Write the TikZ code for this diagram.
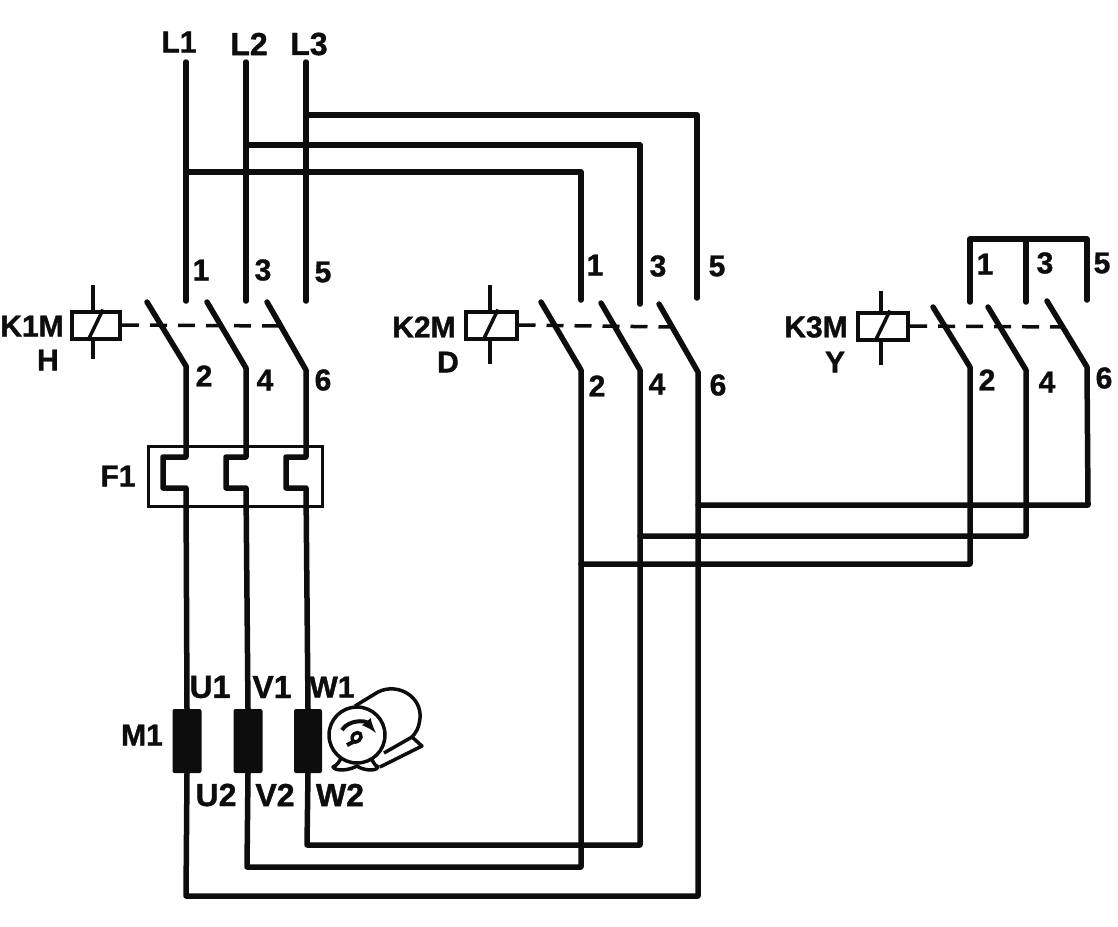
\documentclass[tikz,border=0pt]{standalone}
\usepackage{fontspec}
\setmainfont{Liberation Sans}[BoldFeatures={FakeBold=1.2}]
\begin{document}
\begin{tikzpicture}[x=1pt,y=-1pt]

      \tikzstyle{Wire} = [line width=5.5pt, line cap=round, line join=round, black!95]
      \tikzstyle{ThinWire} = [line width=3.5pt, line cap=butt, line join=round, black!95]
      \tikzstyle{Link} = [line width=3.5pt, dash pattern=on 17pt off 11pt, black!95]
      \tikzstyle{Label} = [font=\bfseries\fontsize{30}{32}\selectfont, inner sep=0pt, black!95]
      \tikzstyle{PortLabel} = [font=\bfseries\fontsize{32}{34}\selectfont, inner sep=0pt, black!95]
      \tikzstyle{CoilBlock} = [rectangle, draw=black!95, line width=4pt, fill=white, minimum width=48pt, minimum height=27pt, inner sep=0pt]
      \tikzstyle{WindingBlock} = [rectangle, rounded corners=2pt, fill=black!95, minimum width=29pt, minimum height=64pt, inner sep=0pt]

      \useasboundingbox (0,0) rectangle (1118,926);

      % supply and bus coordinates
      \coordinate (L1top) at (186,62);
      \coordinate (L2top) at (246,62);
      \coordinate (L3top) at (306,62);
      \coordinate (L1end) at (186,301);
      \coordinate (L2end) at (246,301);
      \coordinate (L3end) at (306,301);
      \coordinate (L1tap) at (186,172);
      \coordinate (L2tap) at (246,145);
      \coordinate (L3tap) at (306,115);

      \coordinate (D1corner) at (581,172);
      \coordinate (D3corner) at (640,145);
      \coordinate (D5corner) at (697,115);
      \coordinate (D1end) at (581,300);
      \coordinate (D3end) at (640,304);
      \coordinate (D5end) at (697,298);

      \coordinate (Y1corner) at (970,239);
      \coordinate (Y3top) at (1026,239);
      \coordinate (Y5corner) at (1087,239);
      \coordinate (Y1end) at (970,302);
      \coordinate (Y3end) at (1026,302);
      \coordinate (Y5end) at (1087,300);

      % blades: free end and knee
      \coordinate (H2free) at (147,302);
      \coordinate (H2knee) at (186,366);
      \coordinate (H4free) at (207,302);
      \coordinate (H4knee) at (246,368);
      \coordinate (H6free) at (267,302);
      \coordinate (H6knee) at (306,370);

      \coordinate (D2free) at (541,302);
      \coordinate (D2knee) at (581,370);
      \coordinate (D4free) at (601,303);
      \coordinate (D4knee) at (640,370);
      \coordinate (D6free) at (659,304);
      \coordinate (D6knee) at (698,372);

      \coordinate (Y2free) at (933,307);
      \coordinate (Y2knee) at (970,367);
      \coordinate (Y4free) at (988,307);
      \coordinate (Y4knee) at (1026,370);
      \coordinate (Y6free) at (1047,301);
      \coordinate (Y6knee) at (1087,367);

      % coils
      \node (K1coil) [CoilBlock] at (96,325) {};
      \node (K2coil) [CoilBlock, minimum width=51pt] at (491,325) {};
      \node (K3coil) [CoilBlock, minimum width=50pt] at (883,326) {};

      \coordinate (K1link) at (280,326);
      \coordinate (K2link) at (672,327);
      \coordinate (K3link) at (1065,327);

      \draw [Link] (K1coil.east) -- (K1link);
      \draw [Link] (K2coil.east) -- (K2link);
      \draw [Link] (K3coil.east) -- (K3link);

      \draw [ThinWire] ([xshift=-3pt]K1coil.north) -- ++(0,-25) ([xshift=-3pt]K1coil.south) -- ++(0,18);
      \draw [ThinWire] ([xshift=-1pt]K2coil.north) -- ++(0,-25) ([xshift=-1pt]K2coil.south) -- ++(0,23);
      \draw [ThinWire] ([xshift=-2pt]K3coil.north) -- ++(0,-20) ([xshift=-2pt]K3coil.south) -- ++(0,23);
      \draw [ThinWire] ([xshift=-8pt]K1coil.south) -- ([xshift=7pt]K1coil.north);
      \draw [ThinWire] ([xshift=-8pt]K2coil.south) -- ([xshift=7pt]K2coil.north);
      \draw [ThinWire] ([xshift=-8pt]K3coil.south) -- ([xshift=7pt]K3coil.north);

      % overload relay
      \node (F1box) [rectangle, draw=black!95, line width=3pt, minimum width=174pt, minimum height=60pt, inner sep=0pt] at (235,476) {};
      \coordinate (H2in) at (186,457);
      \coordinate (H2a) at (163,457);
      \coordinate (H2b) at (163,488);
      \coordinate (H2out) at (186,488);
      \coordinate (H4in) at (246,457);
      \coordinate (H4a) at (226,457);
      \coordinate (H4b) at (226,488);
      \coordinate (H4out) at (246,488);
      \coordinate (H6in) at (306,457);
      \coordinate (H6a) at (286,457);
      \coordinate (H6b) at (286,488);
      \coordinate (H6out) at (306,488);

      % motor windings
      \node (U) [WindingBlock] at (187,741) {};
      \node (V) [WindingBlock] at (248,741) {};
      \node (W) [WindingBlock, minimum width=28pt] at (308,741) {};

      \coordinate (U2corner) at (186,896);
      \coordinate (V2corner) at (247,867);
      \coordinate (W2corner) at (307,845);
      \coordinate (D6corner) at (698,896);
      \coordinate (D2corner) at (581,867);
      \coordinate (D4corner) at (640,845);

      \coordinate (D2tap) at (581,564);
      \coordinate (D4tap) at (640,536);
      \coordinate (D6tap) at (698,505);
      \coordinate (Y2corner) at (970,564);
      \coordinate (Y4corner) at (1026,536);
      \coordinate (Y6corner) at (1088,505);

      % line side
      \draw [Wire] (L1top) -- (L1end);
      \draw [Wire] (L2top) -- (L2end);
      \draw [Wire] (L3top) -- (L3end);
      \draw [Wire] (L1tap) -- (D1corner) -- (D1end);
      \draw [Wire] (L2tap) -- (D3corner) -- (D3end);
      \draw [Wire] (L3tap) -- (D5corner) -- (D5end);
      \draw [Wire] (Y1end) -- (Y1corner) -- (Y5corner) -- (Y5end);
      \draw [Wire] (Y3top) -- (Y3end);

      % K1M load side
      \draw [Wire] (H2free) -- (H2knee) -- (H2in) -- (H2a) -- (H2b) -- (H2out) -- (U.north);
      \draw [Wire] (H4free) -- (H4knee) -- (H4in) -- (H4a) -- (H4b) -- (H4out) -- (V.north);
      \draw [Wire] (H6free) -- (H6knee) -- (H6in) -- (H6a) -- (H6b) -- (H6out) -- (W.north);

      % K2M load side
      \draw [Wire] (D2free) -- (D2knee) -- (D2corner) -- (V2corner) -- (V.south);
      \draw [Wire] (D4free) -- (D4knee) -- (D4corner) -- (W2corner) -- (W.south);
      \draw [Wire] (D6free) -- (D6knee) -- (D6corner) -- (U2corner) -- (U.south);

      % K3M load side
      \draw [Wire] (Y2free) -- (Y2knee) -- (Y2corner) -- (D2tap);
      \draw [Wire] (Y4free) -- (Y4knee) -- (Y4corner) -- (D4tap);
      \draw [Wire] (Y6free) -- (Y6knee) -- (Y6corner) -- (D6tap);

      % motor sketch
      \draw [ThinWire] (355,706) -- (378,692) .. controls (398,682) and (422,697) .. (420,718) .. controls (419,728) and (416,733) .. (411,738);
      \draw [ThinWire, fill=white] (384,753) -- (412,737) -- (422,746) -- (380,767);
      \draw [ThinWire, fill=white] (342,755) .. controls (340,762) and (337,765) .. (333,767) .. controls (336,772) and (350,770) .. (357,766) .. controls (362,770) and (376,772) .. (378,767) .. controls (374,765) and (372,760) .. (370,755);
      \node (M1frame) [circle, draw=black!95, line width=3.5pt, fill=white, minimum size=56pt, inner sep=0pt] at (357,735) {};
      \draw [ThinWire, line width=4pt, -latex] (342,730) .. controls (348,720) and (365,720) .. (376,733);
      \draw [ThinWire, line width=4pt] (347,745) -- (355,741);
      \draw [line width=3.5pt, black!95] (352,738) .. controls (353,731) and (362,731) .. (361,737) .. controls (360,743) and (351,744) .. (352,738);

      % labels
      \node (L1label) [Label] at (179,42) {L1};
      \node (L2label) [PortLabel] at (249,44) {L2};
      \node (L3label) [PortLabel] at (309,44) {L3};

      \node (H1label) [Label] at (201,270) {1};
      \node (H3label) [Label] at (263,270) {3};
      \node (H5label) [Label] at (323,272) {5};
      \node (H2label) [Label] at (204,376) {2};
      \node (H4label) [Label] at (265,380) {4};
      \node (H6label) [Label] at (323,380) {6};

      \node (D1label) [Label] at (595,265) {1};
      \node (D3label) [Label] at (658,266) {3};
      \node (D5label) [Label] at (717,266) {5};
      \node (D2label) [Label] at (597,386) {2};
      \node (D4label) [Label] at (657,384) {4};
      \node (D6label) [Label] at (718,385) {6};

      \node (Y1label) [Label] at (985,264) {1};
      \node (Y3label) [Label] at (1045,263) {3};
      \node (Y5label) [Label] at (1102,263) {5};
      \node (Y2label) [Label] at (987,380) {2};
      \node (Y4label) [Label] at (1047,382) {4};
      \node (Y6label) [Label] at (1104,378) {6};

      \node (K1label) [Label] at (32,326) {K1M};
      \node (Hlabel) [Label] at (48,360) {H};
      \node (K2label) [Label] at (424,327) {K2M};
      \node (Dlabel) [Label] at (448,362) {D};
      \node (K3label) [Label] at (816,327) {K3M};
      \node (Ylabel) [Label] at (835,362) {Y};

      \node (F1label) [Label] at (118,476) {F1};
      \node (M1label) [Label] at (142,735) {M1};

      \node (U1label) [PortLabel] at (210,687) {U1};
      \node (V1label) [PortLabel] at (272,687) {V1};
      \node (W1label) [Label] at (332,687) {W1};
      \node (U2label) [PortLabel] at (216,795) {U2};
      \node (V2label) [PortLabel] at (275,795) {V2};
      \node (W2label) [PortLabel] at (340,795) {W2};

    \end{tikzpicture}
\end{document}
